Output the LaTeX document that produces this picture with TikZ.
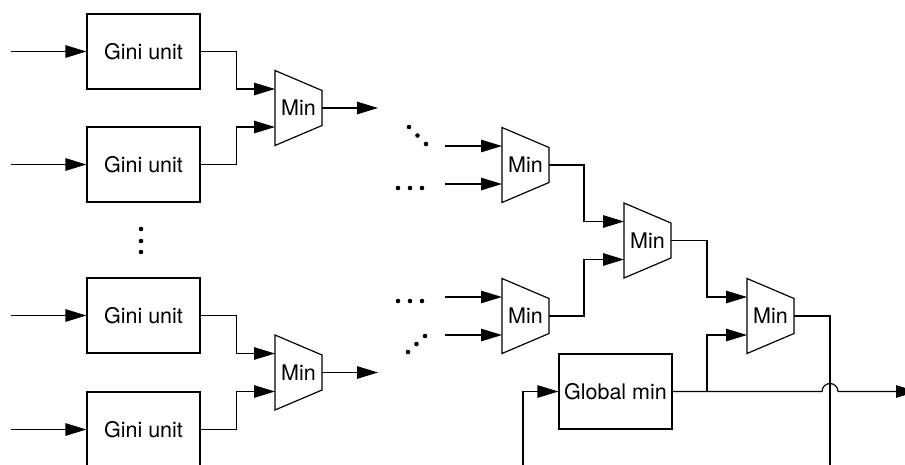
\documentclass[tikz,border=0pt]{standalone}
\usepackage{fontspec}
\setmainfont{TeX Gyre Heros}
\usetikzlibrary{arrows.meta}

% One "Min" comparator: name, x of the wide (left) side, centre y.
\newcommand\minblock[3]{%
  \draw[unitline] (#2,#3-37.5) -- (#2+47,#3-17.5) -- (#2+47,#3+17.5)
    -- (#2,#3+37.5) -- cycle;
  \node[label text] (#1) at (#2+23.5,#3) {Min};
  \coordinate (#1-in1) at (#2,#3-19);
  \coordinate (#1-in2) at (#2,#3+19);
  \coordinate (#1-out) at (#2+47,#3);
}

\tikzset{
  unitline/.style={line width=1.2pt, line join=miter},
  label text/.style={inner sep=0pt, font=\fontsize{21.5}{25}\selectfont},
  unitbox/.style={draw, line width=1.2pt, minimum width=113pt,
    minimum height=75pt, inner sep=0pt, font=\fontsize{21.5}{25}\selectfont},
  wire/.style={line width=1.2pt},
  feed/.style={wire, -{Triangle[length=21pt, width=12.5pt]}},
  dot/.style={circle, fill, inner sep=0pt, minimum size=4.6pt},
}

\begin{document}
\begin{tikzpicture}[x=1pt, y=-1pt]
  \clip (0,0) rectangle (905,464);

  % Gini units
  \node[unitbox] (g1) at (143.5,51.5)  {Gini unit};
  \node[unitbox] (g2) at (143.5,164.5) {Gini unit};
  \node[unitbox] (g3) at (143.5,315.5) {Gini unit};
  \node[unitbox] (g4) at (143.5,429.5) {Gini unit};

  \coordinate (s1) at (11,51.5);
  \coordinate (s2) at (11,164.5);
  \coordinate (s3) at (11,315.5);
  \coordinate (s4) at (11,429.5);
  \draw[feed] (s1) -- (g1.west);
  \draw[feed] (s2) -- (g2.west);
  \draw[feed] (s3) -- (g3.west);
  \draw[feed] (s4) -- (g4.west);

  % vertical ellipsis between the units
  \node[dot] (v1) at (141,229) {};
  \node[dot] (v2) at (141,241) {};
  \node[dot] (v3) at (141,252) {};

  % comparators
  \minblock{m1}{275}{108}
  \minblock{m2}{275}{372.5}
  \minblock{m3}{502}{165}
  \minblock{m4}{502}{316}
  \minblock{m5}{624}{240.5}
  \minblock{m6}{747}{316}

  % first level
  \draw[feed] (g1.east) -- ++(36,0) |- (m1-in1);
  \draw[feed] (g2.east) -- ++(36,0) |- (m1-in2);
  \draw[feed] (g3.east) -- ++(36,0) |- (m2-in1);
  \draw[feed] (g4.east) -- ++(36,0) |- (m2-in2);

  \coordinate (o1) at (378,108);
  \coordinate (o2) at (378,372.5);
  \draw[feed] (m1-out) -- (o1);
  \draw[feed] (m2-out) -- (o2);

  % inputs of the intermediate comparators
  \coordinate (i31) at (445,146);
  \coordinate (i32) at (445,184);
  \coordinate (i41) at (445,297);
  \coordinate (i42) at (445,335);
  \draw[feed] (i31) -- (m3-in1);
  \draw[feed] (i32) -- (m3-in2);
  \draw[feed] (i41) -- (m4-in1);
  \draw[feed] (i42) -- (m4-in2);

  % ellipses in front of them
  \node[dot] (d1) at (409,127) {};
  \node[dot] (d2) at (417.5,135.5) {};
  \node[dot] (d3) at (426,144) {};
  \node[dot] (h1) at (398,188) {};
  \node[dot] (h2) at (410,188) {};
  \node[dot] (h3) at (422,188) {};
  \node[dot] (h4) at (398,301) {};
  \node[dot] (h5) at (410,301) {};
  \node[dot] (h6) at (422,301) {};
  \node[dot] (d4) at (425,336) {};
  \node[dot] (d5) at (416.5,344) {};
  \node[dot] (d6) at (408,352) {};

  % second and third level
  \draw[feed] (m3-out) -- ++(35,0) |- (m5-in1);
  \draw[feed] (m4-out) -- ++(35,0) |- (m5-in2);

  % global minimum register
  \node[unitbox] (gm) at (615.5,391.5) {Global min};
  \coordinate (j) at (707,391.5);
  \draw[feed] (m5-out) -- (m5-out -| j) |- (m6-in1);
  \draw[feed] (j) |- (m6-in2);

  % result, hopping over the feedback wire
  \coordinate (hop) at (830,391.5);
  \coordinate (res) at (917,391.5);
  \draw[feed] (gm.east) -- ([xshift=-8pt]hop)
    arc[start angle=180, end angle=0, radius=8pt] -- (res);

  % feedback into the global minimum
  \coordinate (fbR) at (830,480);
  \coordinate (fbL) at (523,480);
  \draw[feed] (m6-out) -| (fbR) -- (fbL) |- (gm.west);
\end{tikzpicture}
\end{document}
